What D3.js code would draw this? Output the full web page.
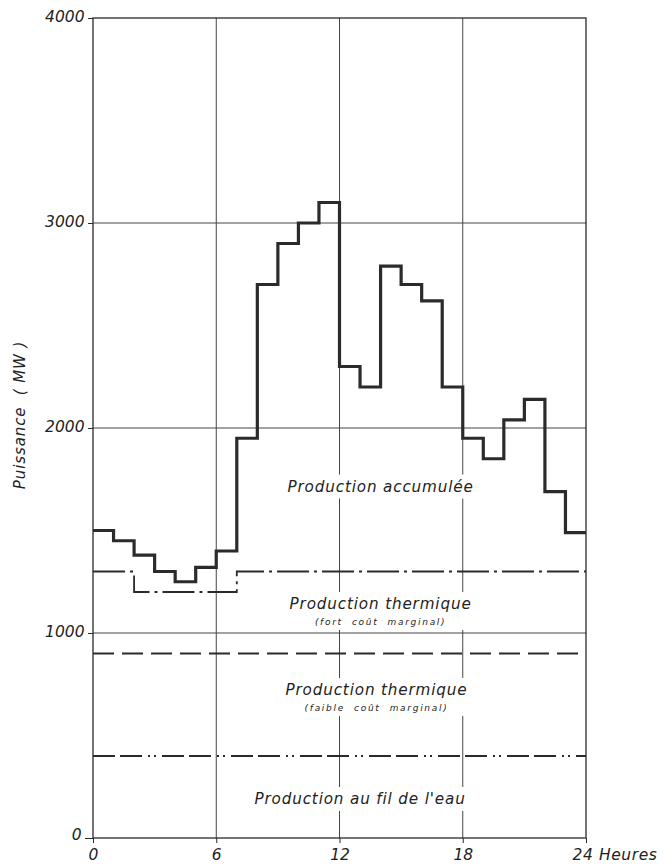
<!DOCTYPE html>
<html>
<head>
<meta charset="utf-8">
<script src="https://cdn.jsdelivr.net/npm/d3@7"></script>
<style>
  html, body { margin: 0; padding: 0; background: #fff; }
  svg { display: block; }
  text { font-family: "DejaVu Sans", sans-serif; font-style: italic; fill: #222; }
</style>
</head>
<body>
<svg id="chart" width="670" height="866"></svg>
<script>
// ---- Data ----
const hours = [0,1,2,3,4,5,6,7,8,9,10,11,12,13,14,15,16,17,18,19,20,21,22,23];
const totalLoad = [1500,1450,1380,1300,1250,1320,1400,1950,2700,2900,3000,3100,
                   2300,2200,2790,2700,2620,2200,1950,1850,2040,2140,1690,1490];
// breakpoints [hour, MW]
const thermalHighLimit = [[0,1300],[2,1300],[2,1200],[7,1200],[7,1300],[24,1300]];
const thermalLowLimit  = [[0,900],[24,900]];
const runOfRiverLimit  = [[0,400],[24,400]];
const xTicks = [0,6,12,18,24];
const yTicks = [0,1000,2000,3000,4000];
const areaLabels = [
  {text:"Production accumulée", sub:null, h:14.0, v:1690},
  {text:"Production thermique", sub:"(fort  coût  marginal)", h:14.0, v:1117},
  {text:"Production thermique", sub:"(faible  coût  marginal)", h:13.8, v:698},
  {text:"Production au fil de l'eau", sub:null, h:13.0, v:166}
];

// ---- Layout ----
const svg = d3.select("#chart");
const x = d3.scaleLinear().domain([0,24]).range([93,586]);
const y = d3.scaleLinear().domain([0,4000]).range([838,18]);
const ink = "#2a2a2a";

// grid
const g = svg.append("g");
g.selectAll("line.vg").data(xTicks.slice(1,4)).join("line")
  .attr("x1", d=>x(d)).attr("x2", d=>x(d)).attr("y1", y(4000)).attr("y2", y(0))
  .attr("stroke", "#444").attr("stroke-width", 1);
g.selectAll("line.hg").data(yTicks.slice(1,4)).join("line")
  .attr("x1", x(0)).attr("x2", x(24)).attr("y1", d=>y(d)).attr("y2", d=>y(d))
  .attr("stroke", "#444").attr("stroke-width", 1);

// frame
g.append("rect").attr("x", x(0)).attr("y", y(4000))
  .attr("width", x(24)-x(0)).attr("height", y(0)-y(4000))
  .attr("fill", "none").attr("stroke", ink).attr("stroke-width", 1.3);

// axes via d3
const yAxis = d3.axisLeft(y).tickValues(yTicks).tickSize(5).tickFormat(d3.format("d"));
const ya = svg.append("g").attr("transform", `translate(${x(0)},0)`).call(yAxis);
ya.select(".domain").remove();
ya.selectAll("line").attr("stroke", ink);
ya.selectAll("text").attr("font-size", 15.5).attr("dx", -0.5).attr("dy", "0.2em")
  .style("font-family", "DejaVu Sans").style("font-style", "italic").attr("fill", "#222");
ya.selectAll(".tick").filter(d=>d===0).select("line").attr("x2", -8);
ya.selectAll(".tick").filter(d=>d===0).select("text").attr("x", -11).attr("dy", "0.1em");

const xAxis = d3.axisBottom(x).tickValues(xTicks).tickSize(5)
  .tickFormat(d => d===24 ? "24 Heures" : d);
const xa = svg.append("g").attr("transform", `translate(0,${y(0)})`).call(xAxis);
xa.select(".domain").remove();
xa.selectAll("line").attr("stroke", ink);
xa.selectAll("text").attr("font-size", 15.5).attr("y", 11)
  .style("font-family", "DejaVu Sans").style("font-style", "italic").attr("fill", "#222");
xa.selectAll(".tick").filter(d=>d===24).select("text")
  .attr("text-anchor", "start").attr("x", -14).attr("letter-spacing", 0.6);

// y title
svg.append("text")
  .attr("transform", `translate(25,415) rotate(-90)`)
  .attr("text-anchor", "middle").attr("font-size", 15).attr("letter-spacing", 0.9)
  .attr("xml:space", "preserve")
  .text("Puissance  ( MW )");

// area labels with white backgrounds
const lg = svg.append("g");
areaLabels.forEach(l => {
  const cx = x(l.h), cy = y(l.v);
  const t = lg.append("text").attr("x", cx).attr("y", cy)
    .attr("text-anchor", "middle").attr("font-size", 15.2).attr("letter-spacing", 0.85)
    .text(l.text);
  let bb = t.node().getBBox();
  let top = bb.y, bottom = bb.y + bb.height, w = bb.width;
  if (l.sub) {
    const s = lg.append("text").attr("x", cx).attr("y", cy + 16)
      .attr("text-anchor", "middle").attr("font-size", 9).attr("letter-spacing", 1.7)
      .attr("xml:space", "preserve")
      .text(l.sub);
    const b2 = s.node().getBBox();
    bottom = b2.y + b2.height; w = Math.max(w, b2.width);
  }
  lg.insert("rect", "text").attr("x", cx - w/2 - 4).attr("y", top - 3)
    .attr("width", w + 8).attr("height", bottom - top + 6).attr("fill", "#fff");
});

// limit lines
const ln = d3.line().x(d=>x(d[0])).y(d=>y(d[1]));
svg.append("path").datum(thermalHighLimit).attr("d", ln)
  .attr("fill", "none").attr("stroke", ink).attr("stroke-width", 1.8)
  .attr("stroke-dasharray", "32 5 3 5");
svg.append("path").datum(thermalLowLimit).attr("d", ln)
  .attr("fill", "none").attr("stroke", ink).attr("stroke-width", 1.8)
  .attr("stroke-dasharray", "21 8");
svg.append("path").datum(runOfRiverLimit).attr("d", ln)
  .attr("fill", "none").attr("stroke", ink).attr("stroke-width", 1.8)
  .attr("stroke-dasharray", "22 5 22 6 2 4 2 6");

// total load step line
const pts = hours.map((h,i)=>[h, totalLoad[i]]);
pts.push([24, totalLoad[totalLoad.length-1]]);
const step = d3.line().x(d=>x(d[0])).y(d=>y(d[1])).curve(d3.curveStepAfter);
svg.append("path").datum(pts).attr("d", step)
  .attr("fill", "none").attr("stroke", "#2b2b2b").attr("stroke-width", 3.2)
  .attr("stroke-linejoin", "miter");
</script>
</body>
</html>
